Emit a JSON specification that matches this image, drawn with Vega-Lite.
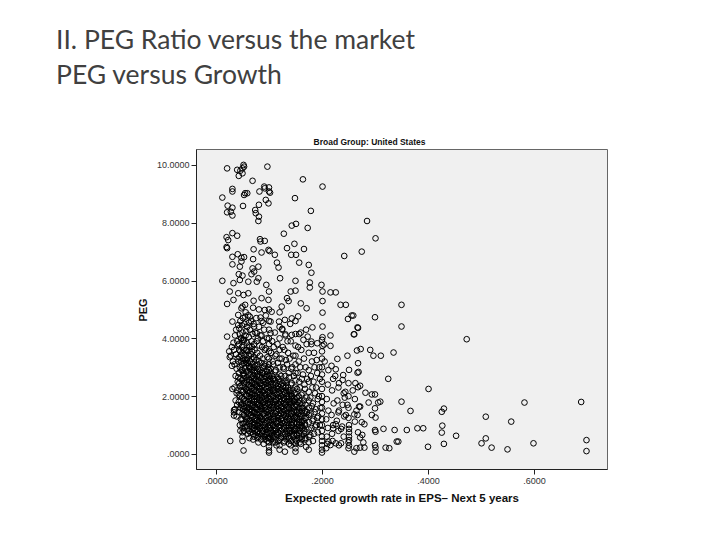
{
"$schema": "https://vega.github.io/schema/vega-lite/v6.json",
"width": 411,
"height": 320,
"autosize": {"type": "none"},
"padding": {"left": 196, "top": 149, "right": 113, "bottom": 71},
"background": "white",
"title": {"text": ["II. PEG Ratio versus the market", "PEG versus Growth"], "anchor": "start", "frame": "group", "dx": -140, "baseline": "bottom", "offset": 21, "font": "Lato", "fontSize": 26.5, "fontWeight": "normal", "color": "#404040", "lineHeight": 35},
"data": {"values": [
{"growth":0.021,"peg":9.88},{"growth":0.040,"peg":9.83},{"growth":0.043,"peg":9.62},{"growth":0.052,"peg":10.0},{"growth":0.053,"peg":9.94},{"growth":0.050,"peg":9.88},{"growth":0.046,"peg":9.80},{"growth":0.050,"peg":9.71},{"growth":0.097,"peg":9.94},{"growth":0.164,"peg":9.50},{"growth":0.201,"peg":9.25},{"growth":0.069,"peg":9.45},{"growth":0.031,"peg":9.17},{"growth":0.031,"peg":9.08},{"growth":0.012,"peg":8.87},{"growth":0.055,"peg":9.02},{"growth":0.053,"peg":8.96},{"growth":0.059,"peg":9.02},{"growth":0.051,"peg":8.58},{"growth":0.082,"peg":9.08},{"growth":0.091,"peg":9.25},{"growth":0.092,"peg":9.19},{"growth":0.100,"peg":9.22},{"growth":0.100,"peg":9.08},{"growth":0.102,"peg":9.04},{"growth":0.094,"peg":8.79},{"growth":0.099,"peg":8.67},{"growth":0.149,"peg":8.85},{"growth":0.179,"peg":8.41},{"growth":0.022,"peg":8.59},{"growth":0.021,"peg":8.36},{"growth":0.031,"peg":8.52},{"growth":0.031,"peg":8.25},{"growth":0.028,"peg":8.38},{"growth":0.074,"peg":8.44},{"growth":0.075,"peg":8.33},{"growth":0.081,"peg":8.21},{"growth":0.080,"peg":8.06},{"growth":0.081,"peg":8.62},{"growth":0.285,"peg":8.06},{"growth":0.143,"peg":7.90},{"growth":0.151,"peg":7.96},{"growth":0.173,"peg":7.82},{"growth":0.128,"peg":7.62},{"growth":0.301,"peg":7.46},{"growth":0.031,"peg":7.64},{"growth":0.040,"peg":7.55},{"growth":0.020,"peg":7.50},{"growth":0.023,"peg":7.40},{"growth":0.020,"peg":7.16},{"growth":0.021,"peg":7.12},{"growth":0.083,"peg":7.43},{"growth":0.092,"peg":7.37},{"growth":0.084,"peg":7.35},{"growth":0.148,"peg":7.27},{"growth":0.166,"peg":7.09},{"growth":0.134,"peg":7.12},{"growth":0.071,"peg":7.08},{"growth":0.275,"peg":7.00},{"growth":0.086,"peg":6.97},{"growth":0.099,"peg":7.06},{"growth":0.101,"peg":7.02},{"growth":0.041,"peg":6.91},{"growth":0.031,"peg":6.82},{"growth":0.048,"peg":6.79},{"growth":0.053,"peg":6.81},{"growth":0.111,"peg":6.89},{"growth":0.142,"peg":6.89},{"growth":0.151,"peg":6.89},{"growth":0.242,"peg":6.85},{"growth":0.031,"peg":6.56},{"growth":0.048,"peg":6.66},{"growth":0.045,"peg":6.48},{"growth":0.070,"peg":6.74},{"growth":0.115,"peg":6.62},{"growth":0.118,"peg":6.45},{"growth":0.157,"peg":6.62},{"growth":0.175,"peg":6.54},{"growth":0.069,"peg":6.42},{"growth":0.072,"peg":6.31},{"growth":0.080,"peg":6.48},{"growth":0.043,"peg":6.22},{"growth":0.050,"peg":6.17},{"growth":0.067,"peg":6.22},{"growth":0.180,"peg":6.27},{"growth":0.012,"peg":5.99},{"growth":0.033,"peg":5.91},{"growth":0.045,"peg":6.02},{"growth":0.061,"peg":5.96},{"growth":0.077,"peg":5.96},{"growth":0.080,"peg":6.08},{"growth":0.121,"peg":6.08},{"growth":0.150,"peg":5.99},{"growth":0.177,"peg":5.93},{"growth":0.199,"peg":5.85},{"growth":0.095,"peg":5.85},{"growth":0.100,"peg":5.62},{"growth":0.026,"peg":5.62},{"growth":0.042,"peg":5.56},{"growth":0.052,"peg":5.50},{"growth":0.061,"peg":5.56},{"growth":0.141,"peg":5.62},{"growth":0.150,"peg":5.65},{"growth":0.177,"peg":5.76},{"growth":0.201,"peg":5.62},{"growth":0.216,"peg":5.59},{"growth":0.226,"peg":5.59},{"growth":0.021,"peg":5.19},{"growth":0.033,"peg":5.33},{"growth":0.055,"peg":5.16},{"growth":0.086,"peg":5.39},{"growth":0.099,"peg":5.33},{"growth":0.134,"peg":5.39},{"growth":0.137,"peg":5.29},{"growth":0.160,"peg":5.21},{"growth":0.201,"peg":5.29},{"growth":0.235,"peg":5.16},{"growth":0.245,"peg":5.16},{"growth":0.350,"peg":5.16},{"growth":0.048,"peg":5.04},{"growth":0.070,"peg":5.06},{"growth":0.092,"peg":4.98},{"growth":0.105,"peg":4.92},{"growth":0.124,"peg":5.10},{"growth":0.171,"peg":5.04},{"growth":0.201,"peg":4.89},{"growth":0.300,"peg":4.73},{"growth":0.249,"peg":4.67},{"growth":0.256,"peg":4.79},{"growth":0.259,"peg":4.79},{"growth":0.042,"peg":4.81},{"growth":0.055,"peg":4.75},{"growth":0.064,"peg":4.75},{"growth":0.084,"peg":4.72},{"growth":0.094,"peg":4.79},{"growth":0.155,"peg":4.76},{"growth":0.143,"peg":4.69},{"growth":0.031,"peg":4.58},{"growth":0.042,"peg":4.46},{"growth":0.062,"peg":4.54},{"growth":0.072,"peg":4.41},{"growth":0.089,"peg":4.54},{"growth":0.103,"peg":4.58},{"growth":0.119,"peg":4.58},{"growth":0.130,"peg":4.64},{"growth":0.182,"peg":4.38},{"growth":0.201,"peg":4.41},{"growth":0.267,"peg":4.38},{"growth":0.350,"peg":4.41},{"growth":0.473,"peg":3.97},{"growth":0.021,"peg":4.06},{"growth":0.045,"peg":4.14},{"growth":0.048,"peg":4.00},{"growth":0.077,"peg":4.18},{"growth":0.086,"peg":4.10},{"growth":0.103,"peg":4.18},{"growth":0.125,"peg":4.33},{"growth":0.131,"peg":4.14},{"growth":0.143,"peg":4.12},{"growth":0.157,"peg":4.15},{"growth":0.173,"peg":4.06},{"growth":0.201,"peg":4.04},{"growth":0.216,"peg":4.10},{"growth":0.260,"peg":4.14},{"growth":0.180,"peg":3.89},{"growth":0.191,"peg":3.83},{"growth":0.201,"peg":3.74},{"growth":0.216,"peg":3.74},{"growth":0.204,"peg":3.79},{"growth":0.273,"peg":3.63},{"growth":0.291,"peg":3.60},{"growth":0.297,"peg":3.40},{"growth":0.311,"peg":3.40},{"growth":0.335,"peg":3.51},{"growth":0.248,"peg":3.40},{"growth":0.229,"peg":3.29},{"growth":0.325,"peg":2.60},{"growth":0.401,"peg":2.25},{"growth":0.268,"peg":3.14},{"growth":0.267,"peg":2.81},{"growth":0.251,"peg":2.91},{"growth":0.240,"peg":2.73},{"growth":0.226,"peg":2.93},{"growth":0.239,"peg":2.56},{"growth":0.250,"peg":2.45},{"growth":0.272,"peg":2.36},{"growth":0.268,"peg":2.31},{"growth":0.282,"peg":2.12},{"growth":0.300,"peg":2.06},{"growth":0.294,"peg":2.06},{"growth":0.350,"peg":1.81},{"growth":0.310,"peg":1.81},{"growth":0.306,"peg":1.78},{"growth":0.288,"peg":1.78},{"growth":0.270,"peg":1.64},{"growth":0.272,"peg":1.64},{"growth":0.367,"peg":1.49},{"growth":0.300,"peg":1.58},{"growth":0.301,"peg":1.26},{"growth":0.294,"peg":1.35},{"growth":0.509,"peg":1.29},{"growth":0.557,"peg":1.12},{"growth":0.582,"peg":1.78},{"growth":0.689,"peg":1.80},{"growth":0.426,"peg":1.46},{"growth":0.430,"peg":1.57},{"growth":0.316,"peg":0.87},{"growth":0.337,"peg":0.83},{"growth":0.360,"peg":0.83},{"growth":0.380,"peg":0.89},{"growth":0.391,"peg":0.89},{"growth":0.427,"peg":0.98},{"growth":0.426,"peg":0.74},{"growth":0.453,"peg":0.63},{"growth":0.300,"peg":0.83},{"growth":0.301,"peg":0.77},{"growth":0.280,"peg":1.03},{"growth":0.276,"peg":0.66},{"growth":0.272,"peg":0.57},{"growth":0.501,"peg":0.37},{"growth":0.509,"peg":0.54},{"growth":0.520,"peg":0.22},{"growth":0.550,"peg":0.16},{"growth":0.599,"peg":0.37},{"growth":0.699,"peg":0.48},{"growth":0.699,"peg":0.10},{"growth":0.400,"peg":0.25},{"growth":0.430,"peg":0.35},{"growth":0.341,"peg":0.43},{"growth":0.344,"peg":0.43},{"growth":0.327,"peg":0.20},{"growth":0.320,"peg":0.22},{"growth":0.300,"peg":0.31},{"growth":0.301,"peg":0.22},{"growth":0.301,"peg":0.08},{"growth":0.280,"peg":0.22},{"growth":0.272,"peg":0.22},{"growth":0.261,"peg":0.08},{"growth":0.251,"peg":0.29},{"growth":0.251,"peg":0.48},{"growth":0.236,"peg":0.37},{"growth":0.226,"peg":0.37},{"growth":0.212,"peg":0.43},{"growth":0.216,"peg":0.31},{"growth":0.251,"peg":1.00},{"growth":0.251,"peg":0.87},{"growth":0.251,"peg":0.75},{"growth":0.251,"peg":0.60},{"growth":0.236,"peg":0.87},{"growth":0.226,"peg":1.03},{"growth":0.221,"peg":0.89},{"growth":0.245,"peg":1.35},{"growth":0.231,"peg":1.44},{"growth":0.248,"peg":1.70},{"growth":0.261,"peg":1.37},{"growth":0.262,"peg":1.12},{"growth":0.267,"peg":1.35},{"growth":0.027,"peg":0.45},{"growth":0.052,"peg":0.12},{"growth":0.031,"peg":2.25},{"growth":0.034,"peg":1.52},{"growth":0.034,"peg":1.33},{"growth":0.034,"peg":1.44},{"growth":0.266,"peg":3.58},{"growth":0.269,"peg":2.84},{"growth":0.261,"peg":4.14},{"growth":0.268,"peg":4.36},{"growth":0.025,"peg":3.55},{"growth":0.028,"peg":3.40},{"growth":0.030,"peg":3.70},{"growth":0.032,"peg":3.20},{"growth":0.030,"peg":3.05},{"growth":0.026,"peg":3.35},{"growth":0.033,"peg":3.85},
{"growth":0.036,"peg":4.1},{"growth":0.040,"peg":3.9},{"growth":0.034,"peg":3.6},{"growth":0.038,"peg":3.45},{"growth":0.041,"peg":3.3},{"growth":0.035,"peg":3.1},{"growth":0.039,"peg":2.95},{"growth":0.037,"peg":2.7},{"growth":0.041,"peg":2.5},{"growth":0.035,"peg":2.3},{"growth":0.039,"peg":2.1},{"growth":0.037,"peg":1.85},{"growth":0.040,"peg":1.7},{"growth":0.036,"peg":1.55},{"growth":0.039,"peg":1.3},{"growth":0.042,"peg":3.75},{"growth":0.038,"peg":4.3},
{"growth":0.046,"peg":4.6},{"growth":0.044,"peg":4.35},{"growth":0.047,"peg":4.0},{"growth":0.043,"peg":3.8},{"growth":0.046,"peg":3.55},{"growth":0.044,"peg":3.35},{"growth":0.047,"peg":3.2},{"growth":0.045,"peg":3.0},{"growth":0.043,"peg":2.8},{"growth":0.046,"peg":2.6},{"growth":0.044,"peg":2.45},{"growth":0.047,"peg":2.2},{"growth":0.045,"peg":2.0},{"growth":0.043,"peg":1.8},{"growth":0.046,"peg":1.6},{"growth":0.044,"peg":1.45},{"growth":0.047,"peg":1.2},{"growth":0.045,"peg":1.0},{"growth":0.046,"peg":0.8},
{"growth":0.050,"peg":5.1},{"growth":0.051,"peg":4.7},{"growth":0.049,"peg":4.45},{"growth":0.050,"peg":4.2},{"growth":0.051,"peg":3.95},{"growth":0.049,"peg":3.7},{"growth":0.050,"peg":3.5},{"growth":0.051,"peg":3.3},{"growth":0.049,"peg":3.1},{"growth":0.050,"peg":2.9},{"growth":0.051,"peg":2.75},{"growth":0.049,"peg":2.55},{"growth":0.050,"peg":2.35},{"growth":0.051,"peg":2.15},{"growth":0.049,"peg":1.95},{"growth":0.050,"peg":1.75},{"growth":0.051,"peg":1.55},{"growth":0.050,"peg":1.4},{"growth":0.050,"peg":1.2},{"growth":0.050,"peg":1.05},{"growth":0.050,"peg":0.9},{"growth":0.050,"peg":0.75},{"growth":0.050,"peg":0.6},{"growth":0.050,"peg":0.45},
{"growth":0.056,"peg":4.9},{"growth":0.054,"peg":4.5},{"growth":0.057,"peg":4.25},{"growth":0.053,"peg":3.95},{"growth":0.056,"peg":3.6},{"growth":0.054,"peg":3.4},{"growth":0.057,"peg":3.15},{"growth":0.055,"peg":2.95},{"growth":0.053,"peg":2.7},{"growth":0.056,"peg":2.5},{"growth":0.054,"peg":2.3},{"growth":0.057,"peg":2.05},{"growth":0.055,"peg":1.85},{"growth":0.053,"peg":1.65},{"growth":0.056,"peg":1.5},{"growth":0.054,"peg":1.3},{"growth":0.057,"peg":1.1},{"growth":0.055,"peg":0.95},{"growth":0.053,"peg":0.8},
{"growth":0.061,"peg":4.8},{"growth":0.059,"peg":4.4},{"growth":0.062,"peg":4.05},{"growth":0.058,"peg":3.85},{"growth":0.061,"peg":3.55},{"growth":0.059,"peg":3.3},{"growth":0.062,"peg":3.05},{"growth":0.060,"peg":2.85},{"growth":0.058,"peg":2.65},{"growth":0.061,"peg":2.4},{"growth":0.059,"peg":2.2},{"growth":0.062,"peg":2.0},{"growth":0.060,"peg":1.8},{"growth":0.058,"peg":1.6},{"growth":0.061,"peg":1.4},{"growth":0.059,"peg":1.25},{"growth":0.062,"peg":1.05},{"growth":0.060,"peg":0.85},{"growth":0.060,"peg":0.7},
{"growth":0.066,"peg":4.6},{"growth":0.064,"peg":4.3},{"growth":0.067,"peg":3.9},{"growth":0.063,"peg":3.7},{"growth":0.066,"peg":3.45},{"growth":0.064,"peg":3.2},{"growth":0.067,"peg":3.0},{"growth":0.065,"peg":2.75},{"growth":0.063,"peg":2.55},{"growth":0.066,"peg":2.35},{"growth":0.064,"peg":2.15},{"growth":0.067,"peg":1.95},{"growth":0.065,"peg":1.75},{"growth":0.063,"peg":1.55},{"growth":0.066,"peg":1.35},{"growth":0.064,"peg":1.15},{"growth":0.067,"peg":0.95},{"growth":0.065,"peg":0.75},{"growth":0.063,"peg":0.55},
{"growth":0.071,"peg":4.5},{"growth":0.069,"peg":4.15},{"growth":0.072,"peg":3.8},{"growth":0.068,"peg":3.55},{"growth":0.071,"peg":3.35},{"growth":0.069,"peg":3.1},{"growth":0.072,"peg":2.9},{"growth":0.070,"peg":2.7},{"growth":0.068,"peg":2.5},{"growth":0.071,"peg":2.3},{"growth":0.069,"peg":2.1},{"growth":0.072,"peg":1.9},{"growth":0.070,"peg":1.7},{"growth":0.068,"peg":1.5},{"growth":0.071,"peg":1.3},{"growth":0.069,"peg":1.1},{"growth":0.072,"peg":0.9},{"growth":0.070,"peg":0.7},{"growth":0.070,"peg":0.5},{"growth":0.071,"peg":5.3},
{"growth":0.076,"peg":4.7},{"growth":0.074,"peg":4.2},{"growth":0.077,"peg":3.9},{"growth":0.073,"peg":3.6},{"growth":0.076,"peg":3.25},{"growth":0.074,"peg":3.05},{"growth":0.077,"peg":2.85},{"growth":0.075,"peg":2.6},{"growth":0.073,"peg":2.4},{"growth":0.076,"peg":2.2},{"growth":0.074,"peg":2.0},{"growth":0.077,"peg":1.8},{"growth":0.075,"peg":1.6},{"growth":0.073,"peg":1.45},{"growth":0.076,"peg":1.25},{"growth":0.074,"peg":1.05},{"growth":0.077,"peg":0.85},{"growth":0.075,"peg":0.65},
{"growth":0.081,"peg":4.4},{"growth":0.079,"peg":4.0},{"growth":0.082,"peg":3.75},{"growth":0.078,"peg":3.5},{"growth":0.081,"peg":3.2},{"growth":0.079,"peg":2.95},{"growth":0.082,"peg":2.75},{"growth":0.080,"peg":2.55},{"growth":0.078,"peg":2.35},{"growth":0.081,"peg":2.15},{"growth":0.079,"peg":1.95},{"growth":0.082,"peg":1.75},{"growth":0.080,"peg":1.55},{"growth":0.078,"peg":1.35},{"growth":0.081,"peg":1.15},{"growth":0.079,"peg":1.0},{"growth":0.080,"peg":0.8},{"growth":0.080,"peg":0.6},{"growth":0.080,"peg":0.4},{"growth":0.081,"peg":5.0},
{"growth":0.086,"peg":4.6},{"growth":0.084,"peg":4.1},{"growth":0.087,"peg":3.7},{"growth":0.083,"peg":3.4},{"growth":0.086,"peg":3.15},{"growth":0.084,"peg":2.9},{"growth":0.087,"peg":2.65},{"growth":0.085,"peg":2.45},{"growth":0.083,"peg":2.25},{"growth":0.086,"peg":2.05},{"growth":0.084,"peg":1.85},{"growth":0.087,"peg":1.65},{"growth":0.085,"peg":1.5},{"growth":0.083,"peg":1.3},{"growth":0.086,"peg":1.1},{"growth":0.084,"peg":0.9},{"growth":0.087,"peg":0.7},{"growth":0.085,"peg":0.5},
{"growth":0.091,"peg":4.3},{"growth":0.089,"peg":3.9},{"growth":0.092,"peg":3.6},{"growth":0.088,"peg":3.3},{"growth":0.091,"peg":3.05},{"growth":0.089,"peg":2.8},{"growth":0.092,"peg":2.6},{"growth":0.090,"peg":2.4},{"growth":0.088,"peg":2.2},{"growth":0.091,"peg":2.0},{"growth":0.089,"peg":1.8},{"growth":0.092,"peg":1.6},{"growth":0.090,"peg":1.4},{"growth":0.088,"peg":1.2},{"growth":0.091,"peg":1.0},{"growth":0.089,"peg":0.8},{"growth":0.092,"peg":0.6},{"growth":0.090,"peg":0.35},
{"growth":0.096,"peg":4.0},{"growth":0.094,"peg":3.65},{"growth":0.097,"peg":3.35},{"growth":0.093,"peg":3.1},{"growth":0.096,"peg":2.85},{"growth":0.094,"peg":2.65},{"growth":0.097,"peg":2.45},{"growth":0.095,"peg":2.25},{"growth":0.093,"peg":2.05},{"growth":0.096,"peg":1.85},{"growth":0.094,"peg":1.65},{"growth":0.097,"peg":1.45},{"growth":0.095,"peg":1.25},{"growth":0.093,"peg":1.05},{"growth":0.096,"peg":0.85},{"growth":0.094,"peg":0.65},{"growth":0.097,"peg":0.45},
{"growth":0.100,"peg":5.0},{"growth":0.100,"peg":4.6},{"growth":0.100,"peg":4.3},{"growth":0.100,"peg":4.0},{"growth":0.100,"peg":3.8},{"growth":0.100,"peg":3.55},{"growth":0.100,"peg":3.3},{"growth":0.100,"peg":3.1},{"growth":0.100,"peg":2.9},{"growth":0.100,"peg":2.7},{"growth":0.100,"peg":2.5},{"growth":0.100,"peg":2.3},{"growth":0.100,"peg":2.1},{"growth":0.100,"peg":1.9},{"growth":0.100,"peg":1.7},{"growth":0.100,"peg":1.5},{"growth":0.100,"peg":1.3},{"growth":0.100,"peg":1.1},{"growth":0.100,"peg":0.9},{"growth":0.100,"peg":0.7},{"growth":0.100,"peg":0.55},{"growth":0.100,"peg":0.4},{"growth":0.100,"peg":0.25},{"growth":0.100,"peg":0.12},{"growth":0.100,"peg":0.05},
{"growth":0.106,"peg":3.9},{"growth":0.104,"peg":3.5},{"growth":0.107,"peg":3.2},{"growth":0.103,"peg":2.95},{"growth":0.106,"peg":2.7},{"growth":0.104,"peg":2.5},{"growth":0.107,"peg":2.3},{"growth":0.105,"peg":2.1},{"growth":0.103,"peg":1.9},{"growth":0.106,"peg":1.7},{"growth":0.104,"peg":1.5},{"growth":0.107,"peg":1.3},{"growth":0.105,"peg":1.1},{"growth":0.103,"peg":0.9},{"growth":0.106,"peg":0.7},{"growth":0.104,"peg":0.5},
{"growth":0.111,"peg":4.2},{"growth":0.109,"peg":3.7},{"growth":0.112,"peg":3.4},{"growth":0.108,"peg":3.1},{"growth":0.111,"peg":2.85},{"growth":0.109,"peg":2.6},{"growth":0.112,"peg":2.4},{"growth":0.110,"peg":2.2},{"growth":0.108,"peg":2.0},{"growth":0.111,"peg":1.8},{"growth":0.109,"peg":1.6},{"growth":0.112,"peg":1.4},{"growth":0.110,"peg":1.2},{"growth":0.108,"peg":1.0},{"growth":0.111,"peg":0.8},{"growth":0.109,"peg":0.6},{"growth":0.112,"peg":0.4},
{"growth":0.116,"peg":3.8},{"growth":0.114,"peg":3.45},{"growth":0.117,"peg":3.15},{"growth":0.113,"peg":2.9},{"growth":0.116,"peg":2.65},{"growth":0.114,"peg":2.45},{"growth":0.117,"peg":2.25},{"growth":0.115,"peg":2.05},{"growth":0.113,"peg":1.85},{"growth":0.116,"peg":1.65},{"growth":0.114,"peg":1.45},{"growth":0.117,"peg":1.25},{"growth":0.115,"peg":1.05},{"growth":0.113,"peg":0.85},{"growth":0.116,"peg":0.65},{"growth":0.114,"peg":0.3},
{"growth":0.120,"peg":4.9},{"growth":0.120,"peg":4.4},{"growth":0.120,"peg":4.0},{"growth":0.120,"peg":3.6},{"growth":0.120,"peg":3.3},{"growth":0.120,"peg":3.0},{"growth":0.120,"peg":2.75},{"growth":0.120,"peg":2.5},{"growth":0.120,"peg":2.3},{"growth":0.120,"peg":2.1},{"growth":0.120,"peg":1.9},{"growth":0.120,"peg":1.7},{"growth":0.120,"peg":1.5},{"growth":0.120,"peg":1.3},{"growth":0.120,"peg":1.1},{"growth":0.120,"peg":0.9},{"growth":0.120,"peg":0.7},{"growth":0.120,"peg":0.5},{"growth":0.120,"peg":0.3},{"growth":0.120,"peg":0.15},
{"growth":0.126,"peg":3.7},{"growth":0.124,"peg":3.3},{"growth":0.127,"peg":3.0},{"growth":0.123,"peg":2.7},{"growth":0.126,"peg":2.45},{"growth":0.124,"peg":2.25},{"growth":0.127,"peg":2.05},{"growth":0.125,"peg":1.85},{"growth":0.123,"peg":1.65},{"growth":0.126,"peg":1.45},{"growth":0.124,"peg":1.25},{"growth":0.127,"peg":1.05},{"growth":0.125,"peg":0.85},{"growth":0.123,"peg":0.6},{"growth":0.125,"peg":4.3},
{"growth":0.131,"peg":4.1},{"growth":0.129,"peg":3.6},{"growth":0.132,"peg":3.25},{"growth":0.128,"peg":2.95},{"growth":0.131,"peg":2.7},{"growth":0.129,"peg":2.5},{"growth":0.132,"peg":2.3},{"growth":0.130,"peg":2.1},{"growth":0.128,"peg":1.9},{"growth":0.131,"peg":1.7},{"growth":0.129,"peg":1.5},{"growth":0.132,"peg":1.3},{"growth":0.130,"peg":1.1},{"growth":0.128,"peg":0.9},{"growth":0.131,"peg":0.7},{"growth":0.129,"peg":0.45},{"growth":0.130,"peg":0.08},
{"growth":0.136,"peg":3.5},{"growth":0.134,"peg":3.1},{"growth":0.137,"peg":2.8},{"growth":0.133,"peg":2.55},{"growth":0.136,"peg":2.3},{"growth":0.134,"peg":2.1},{"growth":0.137,"peg":1.9},{"growth":0.135,"peg":1.7},{"growth":0.133,"peg":1.5},{"growth":0.136,"peg":1.3},{"growth":0.134,"peg":1.1},{"growth":0.137,"peg":0.9},{"growth":0.135,"peg":0.7},{"growth":0.133,"peg":0.5},{"growth":0.135,"peg":3.9},
{"growth":0.141,"peg":3.9},{"growth":0.139,"peg":3.3},{"growth":0.142,"peg":2.95},{"growth":0.138,"peg":2.65},{"growth":0.141,"peg":2.4},{"growth":0.139,"peg":2.2},{"growth":0.142,"peg":2.0},{"growth":0.140,"peg":1.8},{"growth":0.138,"peg":1.6},{"growth":0.141,"peg":1.4},{"growth":0.139,"peg":1.2},{"growth":0.142,"peg":1.0},{"growth":0.140,"peg":0.8},{"growth":0.138,"peg":0.55},{"growth":0.141,"peg":0.3},{"growth":0.140,"peg":4.5},
{"growth":0.146,"peg":3.4},{"growth":0.144,"peg":3.0},{"growth":0.147,"peg":2.7},{"growth":0.143,"peg":2.45},{"growth":0.146,"peg":2.2},{"growth":0.144,"peg":2.0},{"growth":0.147,"peg":1.8},{"growth":0.145,"peg":1.6},{"growth":0.143,"peg":1.4},{"growth":0.146,"peg":1.2},{"growth":0.144,"peg":1.0},{"growth":0.147,"peg":0.8},{"growth":0.145,"peg":0.6},
{"growth":0.150,"peg":4.6},{"growth":0.150,"peg":4.15},{"growth":0.150,"peg":3.75},{"growth":0.150,"peg":3.4},{"growth":0.150,"peg":3.1},{"growth":0.150,"peg":2.8},{"growth":0.150,"peg":2.55},{"growth":0.150,"peg":2.3},{"growth":0.150,"peg":2.1},{"growth":0.150,"peg":1.9},{"growth":0.150,"peg":1.7},{"growth":0.150,"peg":1.5},{"growth":0.150,"peg":1.3},{"growth":0.150,"peg":1.1},{"growth":0.150,"peg":0.9},{"growth":0.150,"peg":0.7},{"growth":0.150,"peg":0.5},{"growth":0.150,"peg":0.35},{"growth":0.150,"peg":0.2},{"growth":0.150,"peg":0.08},
{"growth":0.156,"peg":3.2},{"growth":0.154,"peg":2.8},{"growth":0.157,"peg":2.5},{"growth":0.153,"peg":2.25},{"growth":0.156,"peg":2.0},{"growth":0.154,"peg":1.8},{"growth":0.157,"peg":1.6},{"growth":0.155,"peg":1.4},{"growth":0.153,"peg":1.2},{"growth":0.156,"peg":1.0},{"growth":0.154,"peg":0.8},{"growth":0.157,"peg":0.55},{"growth":0.155,"peg":3.7},
{"growth":0.161,"peg":3.6},{"growth":0.159,"peg":3.0},{"growth":0.162,"peg":2.6},{"growth":0.158,"peg":2.3},{"growth":0.161,"peg":2.05},{"growth":0.159,"peg":1.85},{"growth":0.162,"peg":1.6},{"growth":0.160,"peg":1.4},{"growth":0.158,"peg":1.2},{"growth":0.161,"peg":1.0},{"growth":0.159,"peg":0.8},{"growth":0.162,"peg":0.6},{"growth":0.160,"peg":0.35},{"growth":0.160,"peg":4.2},
{"growth":0.166,"peg":3.3},{"growth":0.164,"peg":2.75},{"growth":0.167,"peg":2.4},{"growth":0.163,"peg":2.1},{"growth":0.166,"peg":1.85},{"growth":0.164,"peg":1.6},{"growth":0.167,"peg":1.4},{"growth":0.165,"peg":1.15},{"growth":0.163,"peg":0.95},{"growth":0.166,"peg":0.7},{"growth":0.165,"peg":3.95},
{"growth":0.171,"peg":3.8},{"growth":0.169,"peg":3.0},{"growth":0.172,"peg":2.6},{"growth":0.168,"peg":2.25},{"growth":0.171,"peg":1.95},{"growth":0.169,"peg":1.7},{"growth":0.172,"peg":1.45},{"growth":0.170,"peg":1.25},{"growth":0.168,"peg":1.0},{"growth":0.171,"peg":0.75},{"growth":0.169,"peg":0.5},{"growth":0.170,"peg":0.25},{"growth":0.170,"peg":4.3},
{"growth":0.175,"peg":3.5},{"growth":0.175,"peg":2.9},{"growth":0.175,"peg":2.5},{"growth":0.175,"peg":2.15},{"growth":0.175,"peg":1.85},{"growth":0.175,"peg":1.6},{"growth":0.175,"peg":1.35},{"growth":0.175,"peg":1.1},{"growth":0.175,"peg":0.85},{"growth":0.175,"peg":0.6},{"growth":0.175,"peg":0.4},{"growth":0.175,"peg":0.15},
{"growth":0.181,"peg":3.2},{"growth":0.179,"peg":2.7},{"growth":0.182,"peg":2.3},{"growth":0.178,"peg":1.95},{"growth":0.181,"peg":1.65},{"growth":0.179,"peg":1.4},{"growth":0.182,"peg":1.15},{"growth":0.180,"peg":0.9},{"growth":0.178,"peg":0.65},{"growth":0.180,"peg":3.8},
{"growth":0.186,"peg":3.0},{"growth":0.184,"peg":2.5},{"growth":0.187,"peg":2.1},{"growth":0.183,"peg":1.75},{"growth":0.186,"peg":1.45},{"growth":0.184,"peg":1.2},{"growth":0.187,"peg":0.95},{"growth":0.185,"peg":0.7},{"growth":0.183,"peg":0.45},{"growth":0.185,"peg":3.5},
{"growth":0.191,"peg":2.8},{"growth":0.189,"peg":2.3},{"growth":0.192,"peg":1.9},{"growth":0.188,"peg":1.55},{"growth":0.191,"peg":1.25},{"growth":0.189,"peg":1.0},{"growth":0.192,"peg":0.75},{"growth":0.190,"peg":3.25},
{"growth":0.196,"peg":2.6},{"growth":0.194,"peg":2.0},{"growth":0.197,"peg":1.6},{"growth":0.193,"peg":1.3},{"growth":0.196,"peg":1.0},{"growth":0.195,"peg":3.0},
{"growth":0.200,"peg":3.55},{"growth":0.200,"peg":3.3},{"growth":0.200,"peg":3.0},{"growth":0.200,"peg":2.75},{"growth":0.200,"peg":2.5},{"growth":0.200,"peg":2.25},{"growth":0.200,"peg":2.0},{"growth":0.200,"peg":1.8},{"growth":0.200,"peg":1.6},{"growth":0.200,"peg":1.4},{"growth":0.200,"peg":1.2},{"growth":0.200,"peg":1.0},{"growth":0.200,"peg":0.8},{"growth":0.200,"peg":0.6},{"growth":0.200,"peg":0.45},{"growth":0.200,"peg":0.3},{"growth":0.200,"peg":0.15},{"growth":0.200,"peg":0.05},{"growth":0.200,"peg":3.95},
{"growth":0.211,"peg":2.4},{"growth":0.209,"peg":1.9},{"growth":0.212,"peg":1.5},{"growth":0.208,"peg":1.2},{"growth":0.211,"peg":0.9},{"growth":0.209,"peg":0.6},{"growth":0.210,"peg":0.35},{"growth":0.205,"peg":3.2},{"growth":0.212,"peg":2.9},{"growth":0.208,"peg":0.2},
{"growth":0.221,"peg":2.6},{"growth":0.219,"peg":2.2},{"growth":0.222,"peg":1.75},{"growth":0.218,"peg":1.35},{"growth":0.221,"peg":1.0},{"growth":0.219,"peg":0.7},{"growth":0.220,"peg":0.45},{"growth":0.218,"peg":3.05},
{"growth":0.231,"peg":2.3},{"growth":0.229,"peg":1.85},{"growth":0.232,"peg":1.5},{"growth":0.228,"peg":1.15},{"growth":0.231,"peg":0.8},{"growth":0.225,"peg":2.7},{"growth":0.232,"peg":2.45},{"growth":0.232,"peg":0.3},
{"growth":0.241,"peg":2.1},{"growth":0.239,"peg":1.7},{"growth":0.242,"peg":1.3},{"growth":0.238,"peg":0.95},{"growth":0.241,"peg":0.6},{"growth":0.244,"peg":2.15},{"growth":0.243,"peg":1.95},
{"growth":0.250,"peg":2.0},{"growth":0.250,"peg":1.6},{"growth":0.250,"peg":1.25},{"growth":0.250,"peg":0.4},{"growth":0.250,"peg":0.2},
{"growth":0.262,"peg":1.9},{"growth":0.265,"peg":1.5},{"growth":0.275,"peg":1.1},{"growth":0.268,"peg":0.75},{"growth":0.278,"peg":0.4},{"growth":0.265,"peg":0.2},{"growth":0.258,"peg":2.2},{"growth":0.263,"peg":2.45},
{"growth":0.0520,"peg":1.05},{"growth":0.0530,"peg":1.35},{"growth":0.0520,"peg":1.65},{"growth":0.0530,"peg":1.9},{"growth":0.0520,"peg":2.2},{"growth":0.0530,"peg":2.45},{"growth":0.0520,"peg":2.8},{"growth":0.0530,"peg":3.15},{"growth":0.0520,"peg":3.6},
{"growth":0.0580,"peg":0.95},{"growth":0.0570,"peg":1.2},{"growth":0.0580,"peg":1.45},{"growth":0.0570,"peg":1.75},{"growth":0.0580,"peg":2.0},{"growth":0.0570,"peg":2.25},{"growth":0.0580,"peg":2.55},{"growth":0.0570,"peg":2.85},{"growth":0.0580,"peg":3.25},
{"growth":0.0620,"peg":0.8},{"growth":0.0630,"peg":1.15},{"growth":0.0620,"peg":1.5},{"growth":0.0630,"peg":1.7},{"growth":0.0620,"peg":1.9},{"growth":0.0630,"peg":2.1},{"growth":0.0620,"peg":2.3},{"growth":0.0630,"peg":2.55},{"growth":0.0620,"peg":2.75},{"growth":0.0630,"peg":3.0},{"growth":0.0620,"peg":3.4},
{"growth":0.0680,"peg":0.85},{"growth":0.0670,"peg":1.05},{"growth":0.0680,"peg":1.25},{"growth":0.0670,"peg":1.45},{"growth":0.0680,"peg":1.65},{"growth":0.0670,"peg":1.85},{"growth":0.0680,"peg":2.05},{"growth":0.0670,"peg":2.25},{"growth":0.0680,"peg":2.45},{"growth":0.0670,"peg":2.65},{"growth":0.0680,"peg":2.9},{"growth":0.0670,"peg":3.3},
{"growth":0.0720,"peg":0.6},{"growth":0.0730,"peg":0.8},{"growth":0.0720,"peg":1.0},{"growth":0.0730,"peg":1.2},{"growth":0.0720,"peg":1.4},{"growth":0.0730,"peg":1.6},{"growth":0.0720,"peg":1.8},{"growth":0.0730,"peg":2.0},{"growth":0.0720,"peg":2.2},{"growth":0.0730,"peg":2.4},{"growth":0.0720,"peg":2.6},{"growth":0.0730,"peg":2.8},{"growth":0.0720,"peg":3.0},
{"growth":0.0780,"peg":0.55},{"growth":0.0770,"peg":0.75},{"growth":0.0780,"peg":0.95},{"growth":0.0770,"peg":1.15},{"growth":0.0780,"peg":1.35},{"growth":0.0770,"peg":1.55},{"growth":0.0780,"peg":1.7},{"growth":0.0770,"peg":1.9},{"growth":0.0780,"peg":2.1},{"growth":0.0770,"peg":2.3},{"growth":0.0780,"peg":2.5},{"growth":0.0770,"peg":2.7},{"growth":0.0780,"peg":3.1},
{"growth":0.0820,"peg":0.7},{"growth":0.0830,"peg":0.9},{"growth":0.0820,"peg":1.05},{"growth":0.0830,"peg":1.25},{"growth":0.0820,"peg":1.45},{"growth":0.0830,"peg":1.65},{"growth":0.0820,"peg":1.85},{"growth":0.0830,"peg":2.05},{"growth":0.0820,"peg":2.25},{"growth":0.0830,"peg":2.45},{"growth":0.0820,"peg":2.65},{"growth":0.0830,"peg":2.85},
{"growth":0.0880,"peg":0.6},{"growth":0.0870,"peg":0.8},{"growth":0.0880,"peg":1.0},{"growth":0.0870,"peg":1.2},{"growth":0.0880,"peg":1.4},{"growth":0.0870,"peg":1.55},{"growth":0.0880,"peg":1.75},{"growth":0.0870,"peg":1.95},{"growth":0.0880,"peg":2.15},{"growth":0.0870,"peg":2.35},{"growth":0.0880,"peg":2.55},{"growth":0.0870,"peg":2.8},{"growth":0.0880,"peg":3.0},
{"growth":0.0920,"peg":0.5},{"growth":0.0930,"peg":0.7},{"growth":0.0920,"peg":0.9},{"growth":0.0930,"peg":1.1},{"growth":0.0920,"peg":1.3},{"growth":0.0930,"peg":1.5},{"growth":0.0920,"peg":1.7},{"growth":0.0930,"peg":1.9},{"growth":0.0920,"peg":2.1},{"growth":0.0930,"peg":2.3},{"growth":0.0920,"peg":2.5},{"growth":0.0930,"peg":2.7},
{"growth":0.0980,"peg":0.55},{"growth":0.0970,"peg":0.75},{"growth":0.0980,"peg":0.95},{"growth":0.0970,"peg":1.15},{"growth":0.0980,"peg":1.35},{"growth":0.0970,"peg":1.55},{"growth":0.0980,"peg":1.75},{"growth":0.0970,"peg":1.95},{"growth":0.0980,"peg":2.15},{"growth":0.0970,"peg":2.35},{"growth":0.0980,"peg":2.55},{"growth":0.0970,"peg":2.75},{"growth":0.0980,"peg":3.0},
{"growth":0.1020,"peg":0.6},{"growth":0.1030,"peg":0.8},{"growth":0.1020,"peg":1.0},{"growth":0.1030,"peg":1.2},{"growth":0.1020,"peg":1.4},{"growth":0.1030,"peg":1.6},{"growth":0.1020,"peg":1.8},{"growth":0.1030,"peg":2.0},{"growth":0.1020,"peg":2.2},{"growth":0.1030,"peg":2.4},{"growth":0.1020,"peg":2.6},{"growth":0.1030,"peg":2.8},
{"growth":0.1080,"peg":0.4},{"growth":0.1070,"peg":0.6},{"growth":0.1080,"peg":0.8},{"growth":0.1070,"peg":1.0},{"growth":0.1080,"peg":1.2},{"growth":0.1070,"peg":1.4},{"growth":0.1080,"peg":1.6},{"growth":0.1070,"peg":1.8},{"growth":0.1080,"peg":2.0},{"growth":0.1070,"peg":2.2},{"growth":0.1080,"peg":2.4},{"growth":0.1070,"peg":2.6},
{"growth":0.1120,"peg":0.5},{"growth":0.1130,"peg":0.7},{"growth":0.1120,"peg":0.9},{"growth":0.1130,"peg":1.1},{"growth":0.1120,"peg":1.3},{"growth":0.1130,"peg":1.5},{"growth":0.1120,"peg":1.7},{"growth":0.1130,"peg":1.9},{"growth":0.1120,"peg":2.1},{"growth":0.1130,"peg":2.3},{"growth":0.1120,"peg":2.55},
{"growth":0.1180,"peg":0.45},{"growth":0.1170,"peg":0.75},{"growth":0.1180,"peg":0.95},{"growth":0.1170,"peg":1.15},{"growth":0.1180,"peg":1.35},{"growth":0.1170,"peg":1.55},{"growth":0.1180,"peg":1.75},{"growth":0.1170,"peg":1.95},{"growth":0.1180,"peg":2.15},{"growth":0.1170,"peg":2.35},{"growth":0.1180,"peg":2.6},
{"growth":0.1220,"peg":0.55},{"growth":0.1230,"peg":0.8},{"growth":0.1220,"peg":1.0},{"growth":0.1230,"peg":1.2},{"growth":0.1220,"peg":1.4},{"growth":0.1230,"peg":1.6},{"growth":0.1220,"peg":1.8},{"growth":0.1230,"peg":2.0},{"growth":0.1220,"peg":2.2},{"growth":0.1230,"peg":2.4},
{"growth":0.1280,"peg":0.4},{"growth":0.1270,"peg":0.7},{"growth":0.1280,"peg":0.95},{"growth":0.1270,"peg":1.15},{"growth":0.1280,"peg":1.35},{"growth":0.1270,"peg":1.55},{"growth":0.1280,"peg":1.75},{"growth":0.1270,"peg":1.95},{"growth":0.1280,"peg":2.15},{"growth":0.1270,"peg":2.35},
{"growth":0.1320,"peg":0.6},{"growth":0.1330,"peg":0.8},{"growth":0.1320,"peg":1.0},{"growth":0.1330,"peg":1.2},{"growth":0.1320,"peg":1.4},{"growth":0.1330,"peg":1.6},{"growth":0.1320,"peg":1.8},{"growth":0.1330,"peg":2.0},{"growth":0.1320,"peg":2.2},{"growth":0.1330,"peg":2.45},
{"growth":0.1380,"peg":0.35},{"growth":0.1370,"peg":0.6},{"growth":0.1380,"peg":0.8},{"growth":0.1370,"peg":1.0},{"growth":0.1380,"peg":1.2},{"growth":0.1370,"peg":1.4},{"growth":0.1380,"peg":1.6},{"growth":0.1370,"peg":1.8},{"growth":0.1380,"peg":2.0},{"growth":0.1370,"peg":2.2},
{"growth":0.1420,"peg":0.45},{"growth":0.1430,"peg":0.7},{"growth":0.1420,"peg":0.9},{"growth":0.1430,"peg":1.1},{"growth":0.1420,"peg":1.3},{"growth":0.1430,"peg":1.5},{"growth":0.1420,"peg":1.7},{"growth":0.1430,"peg":1.9},{"growth":0.1420,"peg":2.1},
{"growth":0.1480,"peg":0.4},{"growth":0.1470,"peg":0.65},{"growth":0.1480,"peg":0.85},{"growth":0.1470,"peg":1.05},{"growth":0.1480,"peg":1.25},{"growth":0.1470,"peg":1.45},{"growth":0.1480,"peg":1.65},{"growth":0.1470,"peg":1.85},{"growth":0.1480,"peg":2.1},
{"growth":0.1520,"peg":0.45},{"growth":0.1530,"peg":0.65},{"growth":0.1520,"peg":0.85},{"growth":0.1530,"peg":1.05},{"growth":0.1520,"peg":1.25},{"growth":0.1530,"peg":1.45},{"growth":0.1520,"peg":1.7},{"growth":0.1530,"peg":1.95},
{"growth":0.1580,"peg":0.4},{"growth":0.1570,"peg":0.7},{"growth":0.1580,"peg":0.9},{"growth":0.1570,"peg":1.1},{"growth":0.1580,"peg":1.3},{"growth":0.1570,"peg":1.5},{"growth":0.1580,"peg":1.75},
{"growth":0.1620,"peg":0.5},{"growth":0.1630,"peg":0.9},{"growth":0.1620,"peg":1.1},{"growth":0.1630,"peg":1.3},{"growth":0.1620,"peg":1.5},{"growth":0.1630,"peg":1.75},
{"growth":0.1680,"peg":0.55},{"growth":0.1670,"peg":0.8},{"growth":0.1680,"peg":1.05},{"growth":0.1670,"peg":1.25},{"growth":0.1680,"peg":1.5},
{"growth":0.042,"peg":3.2},{"growth":0.044,"peg":3.6},{"growth":0.048,"peg":3.4},{"growth":0.052,"peg":3.9},{"growth":0.048,"peg":2.9},{"growth":0.054,"peg":3.25},{"growth":0.058,"peg":3.6},{"growth":0.060,"peg":3.15},{"growth":0.064,"peg":2.95},{"growth":0.046,"peg":2.35},{"growth":0.042,"peg":2.65},{"growth":0.052,"peg":2.6},{"growth":0.068,"peg":3.7},{"growth":0.072,"peg":3.3},{"growth":0.056,"peg":4.1},{"growth":0.062,"peg":3.75},{"growth":0.040,"peg":2.2},{"growth":0.043,"peg":2.05},{"growth":0.047,"peg":1.7}
]},
"layer": [
{
"mark": {"type": "point", "shape": "circle", "filled": false, "size": 32, "stroke": "#000000", "strokeWidth": 1, "opacity": 1},
"encoding": {
"x": {"field": "growth", "type": "quantitative", "scale": {"domain": [-0.0377, 0.7377], "nice": false, "zero": false},
"axis": {"orient": "bottom", "values": [0, 0.2, 0.4, 0.6], "labelExpr": "datum.value < 1 ? substring(format(datum.value, '.4f'), 1) : format(datum.value, '.4f')", "title": "Expected growth rate in EPS\u2013 Next 5 years", "titleX": 205.5, "titleY": 29, "titleBaseline": "middle", "titleFontSize": 11.5}},
"y": {"field": "peg", "type": "quantitative", "scale": {"domain": [-0.519, 10.55], "nice": false, "zero": false},
"axis": {"orient": "left", "values": [0, 2, 4, 6, 8, 10], "labelExpr": "datum.value < 1 ? substring(format(datum.value, '.4f'), 1) : format(datum.value, '.4f')", "title": "PEG", "titleX": -53, "titleY": 160.5, "titleBaseline": "middle", "titleAngle": -90, "titleFontSize": 11}}
}
},
{
"mark": {"type": "point", "opacity": 0},
"encoding": {
"x": {"field": "growth", "type": "quantitative", "scale": {"domain": [-0.0377, 0.7377], "nice": false, "zero": false},
"axis": {"orient": "top", "labels": false, "ticks": false, "domain": false, "grid": false, "title": "Broad Group: United States", "titleX": 173, "titleY": -5, "titleBaseline": "alphabetic", "titleFontSize": 8.5}}
}
}
],
"resolve": {"axis": {"x": "independent"}},
"config": {
"view": {"fill": "#f0f0f0", "stroke": "#666666", "strokeWidth": 1},
"axis": {"grid": false, "labelFont": "Liberation Sans", "labelFontSize": 9, "labelColor": "#333333", "labelPadding": 2, "tickSize": 5, "tickColor": "#222222", "domainColor": "#222222", "titleFont": "Liberation Sans", "titleFontWeight": "bold", "titleColor": "#111111"}
}
}
